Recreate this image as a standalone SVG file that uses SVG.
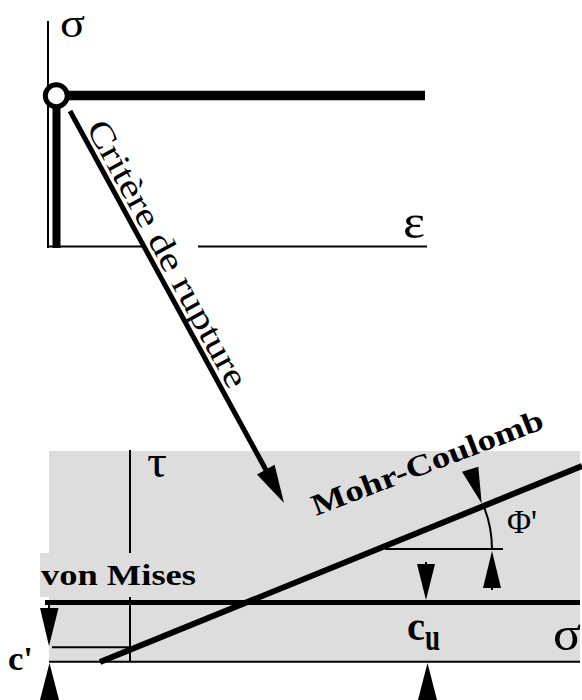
<svg xmlns="http://www.w3.org/2000/svg" width="582" height="700" viewBox="0 0 582 700">
  <style>
    .thin { stroke: #000; stroke-width: 2; fill: none; }
    .thick { stroke: #000; stroke-width: 5; fill: none; }
    .head { fill: #000; stroke: none; }
    .serif { font-family: "Liberation Serif", "Times New Roman", serif; fill: #000; }
    .bold { font-weight: bold; }
    .bg { fill: #dddddd; stroke: none; }
  </style>
  <rect width="582" height="700" fill="#fff"/>

  <g id="stress-strain">
    <line class="thin" x1="48" y1="21" x2="48" y2="248"/>
    <line class="thin" x1="47" y1="246.5" x2="142" y2="246.5"/>
    <line class="thin" x1="198" y1="246.5" x2="427" y2="246.5"/>
    <line x1="56.5" y1="100" x2="56.5" y2="248" stroke="#000" stroke-width="8"/>
    <line x1="62" y1="95.5" x2="425" y2="95.5" stroke="#000" stroke-width="9.5"/>
    <circle cx="56.3" cy="95.8" r="11" fill="#fff" stroke="#000" stroke-width="5"/>
    <text class="serif" x="60" y="37" font-size="41" textLength="25" lengthAdjust="spacingAndGlyphs">σ</text>
    <text class="serif" x="403" y="238" font-size="48" textLength="22" lengthAdjust="spacingAndGlyphs">ε</text>
  </g>

  <g id="mohr-plane">
    <rect class="bg" x="49" y="451" width="531" height="211"/>
    <line class="thin" x1="130" y1="450" x2="130" y2="662"/>
    <rect class="bg" x="40" y="553" width="158" height="44"/>
    <text class="serif" x="147" y="477" font-size="46" textLength="20" lengthAdjust="spacingAndGlyphs">τ</text>
    <line class="thin" x1="49" y1="661.7" x2="580" y2="661.7"/>
    <text class="serif" x="553" y="650" font-size="48" textLength="28" lengthAdjust="spacingAndGlyphs">σ</text>
  </g>

  <g id="von-mises">
    <line class="thick" x1="45" y1="602.5" x2="580" y2="602.5"/>
    <text class="serif bold" x="41" y="585" font-size="30" textLength="155" lengthAdjust="spacingAndGlyphs">von Mises</text>
  </g>

  <g id="mohr-coulomb">
    <line x1="100" y1="662" x2="582" y2="466" stroke="#000" stroke-width="6"/>
    <text class="serif bold" font-size="30" textLength="246" lengthAdjust="spacingAndGlyphs" transform="translate(316 516) rotate(-21)">Mohr-Coulomb</text>
  </g>

  <g id="phi-angle">
    <line class="thin" x1="385" y1="549" x2="503" y2="549"/>
    <path class="thin" d="M 483.6 506 A 114 114 0 0 1 492 549"/>
    <polygon class="head" points="462,471.7 478.3,466.7 481.7,503.5"/>
    <line class="thin" x1="492" y1="585" x2="492" y2="590"/>
    <polygon class="head" points="492,551 483,588 501,588"/>
    <text class="serif" x="507" y="533" font-size="34" textLength="30" lengthAdjust="spacingAndGlyphs">Φ'</text>
  </g>

  <g id="cohesion-cu">
    <line class="thin" x1="426" y1="562" x2="426" y2="566"/>
    <polygon class="head" points="417,564 435,564 426,600"/>
    <polygon class="head" points="427.5,663 418,700 437,700"/>
    <text class="serif bold" x="407" y="640" font-size="39" textLength="18" lengthAdjust="spacingAndGlyphs">c</text>
    <text class="serif bold" x="425" y="650" font-size="37" textLength="15" lengthAdjust="spacingAndGlyphs">u</text>
  </g>

  <g id="cohesion-c">
    <line class="thin" x1="52" y1="647.3" x2="130" y2="647.3"/>
    <line class="thin" x1="49" y1="603" x2="49" y2="609"/>
    <polygon class="head" points="40,608 58.5,608 49,646"/>
    <polygon class="head" points="49.5,663 40,700 59,700"/>
    <text class="serif bold" x="8" y="670" font-size="34" textLength="25" lengthAdjust="spacingAndGlyphs">c'</text>
  </g>

  <g id="connectors">
    <line class="thick" x1="70" y1="111" x2="266" y2="470"/>
    <polygon class="head" points="284,503 274.6,464.8 257,474.4"/>
    <text class="serif" font-size="34" textLength="300" lengthAdjust="spacingAndGlyphs" transform="translate(85.8 127.4) rotate(61.4)">Critère de rupture</text>
  </g>
</svg>
